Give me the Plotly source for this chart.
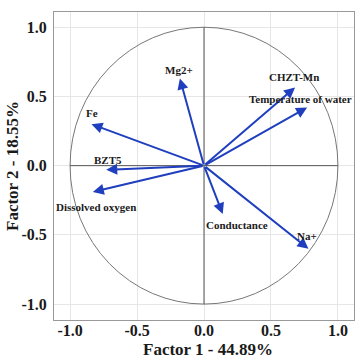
import plotly.graph_objects as go

variables = ["Fe", "BZT5", "Dissolved oxygen", "Mg2+", "CHZT-Mn",
             "Temperature of water", "Conductance", "Na+"]
factor1 = [-0.84, -0.73, -0.83, -0.18, 0.68, 0.77, 0.14, 0.78]
factor2 = [0.30, -0.03, -0.19, 0.63, 0.565, 0.42, -0.35, -0.60]
label_x = [-0.84, -0.72, -0.81, -0.19, 0.675, 0.72, 0.25, 0.77]
label_y = [0.38, 0.04, -0.30, 0.69, 0.64, 0.48, -0.43, -0.51]
ticks = [-1.0, -0.5, 0.0, 0.5, 1.0]
tick_text = ["-1.0", "-0.5", "0.0", "0.5", "1.0"]
x_title = "Factor 1 - 44.89%"
y_title = "Factor 2 - 18.55%"

blue = "#1f3fbf"
font_family = "Liberation Serif"

fig = go.Figure()
fig.add_trace(go.Scatter(x=[0], y=[0], mode="markers",
                         marker=dict(size=1, color="rgba(0,0,0,0)"),
                         showlegend=False, hoverinfo="skip"))

fig.add_shape(type="circle", xref="x", yref="y", x0=-1, y0=-1, x1=1, y1=1,
              line=dict(color="#777777", width=1))
fig.add_shape(type="line", xref="x", yref="y", x0=0, x1=0, y0=-1, y1=1,
              line=dict(color="#555555", width=1))
fig.add_shape(type="line", xref="x", yref="y", x0=-1, x1=1, y0=0, y1=0,
              line=dict(color="#555555", width=1))

annotations = []
for name, fx, fy, lx, ly in zip(variables, factor1, factor2, label_x, label_y):
    annotations.append(dict(x=fx, y=fy, ax=0, ay=0, xref="x", yref="y",
                            axref="x", ayref="y", showarrow=True,
                            arrowhead=2, arrowsize=1.1, arrowwidth=2,
                            arrowcolor=blue, text=""))
    annotations.append(dict(x=lx, y=ly, xref="x", yref="y", showarrow=False,
                            text="<b>%s</b>" % name,
                            font=dict(family=font_family, size=11, color="#1a1a1a")))

annotations.append(dict(x=0.513, y=-0.1325, xref="paper", yref="paper",
                        showarrow=False, xanchor="center", yanchor="bottom",
                        text="<b>%s</b>" % x_title,
                        font=dict(family=font_family, size=17, color="#1a1a1a")))
annotations.append(dict(x=-0.14, y=0.5, xref="paper", yref="paper",
                        showarrow=False, xanchor="center", yanchor="middle",
                        textangle=-90, text="<b>%s</b>" % y_title,
                        font=dict(family=font_family, size=17, color="#1a1a1a")))

fig.update_layout(
    width=355, height=361,
    margin=dict(l=54, r=1, t=12, b=41, autoexpand=False),
    paper_bgcolor="white", plot_bgcolor="white",
    annotations=annotations,
    font=dict(family=font_family, color="#1a1a1a"),
    xaxis=dict(range=[-1.12, 1.12], tickvals=ticks, ticktext=tick_text,
               showgrid=True, gridcolor="#e6e6e6", gridwidth=1, zeroline=False,
               showline=True, linecolor="#999999", mirror=True,
               ticks="", ticklabelstandoff=-4,
               tickfont=dict(family=font_family, size=16, color="#1a1a1a",
                             weight="bold")),
    yaxis=dict(range=[-1.115, 1.11], tickvals=ticks, ticktext=tick_text,
               showgrid=True, gridcolor="#e6e6e6", gridwidth=1, zeroline=False,
               showline=True, linecolor="#999999", mirror=True,
               ticks="", ticklabelstandoff=3,
               tickfont=dict(family=font_family, size=16, color="#1a1a1a",
                             weight="bold")),
)

fig.write_html("out.html")
